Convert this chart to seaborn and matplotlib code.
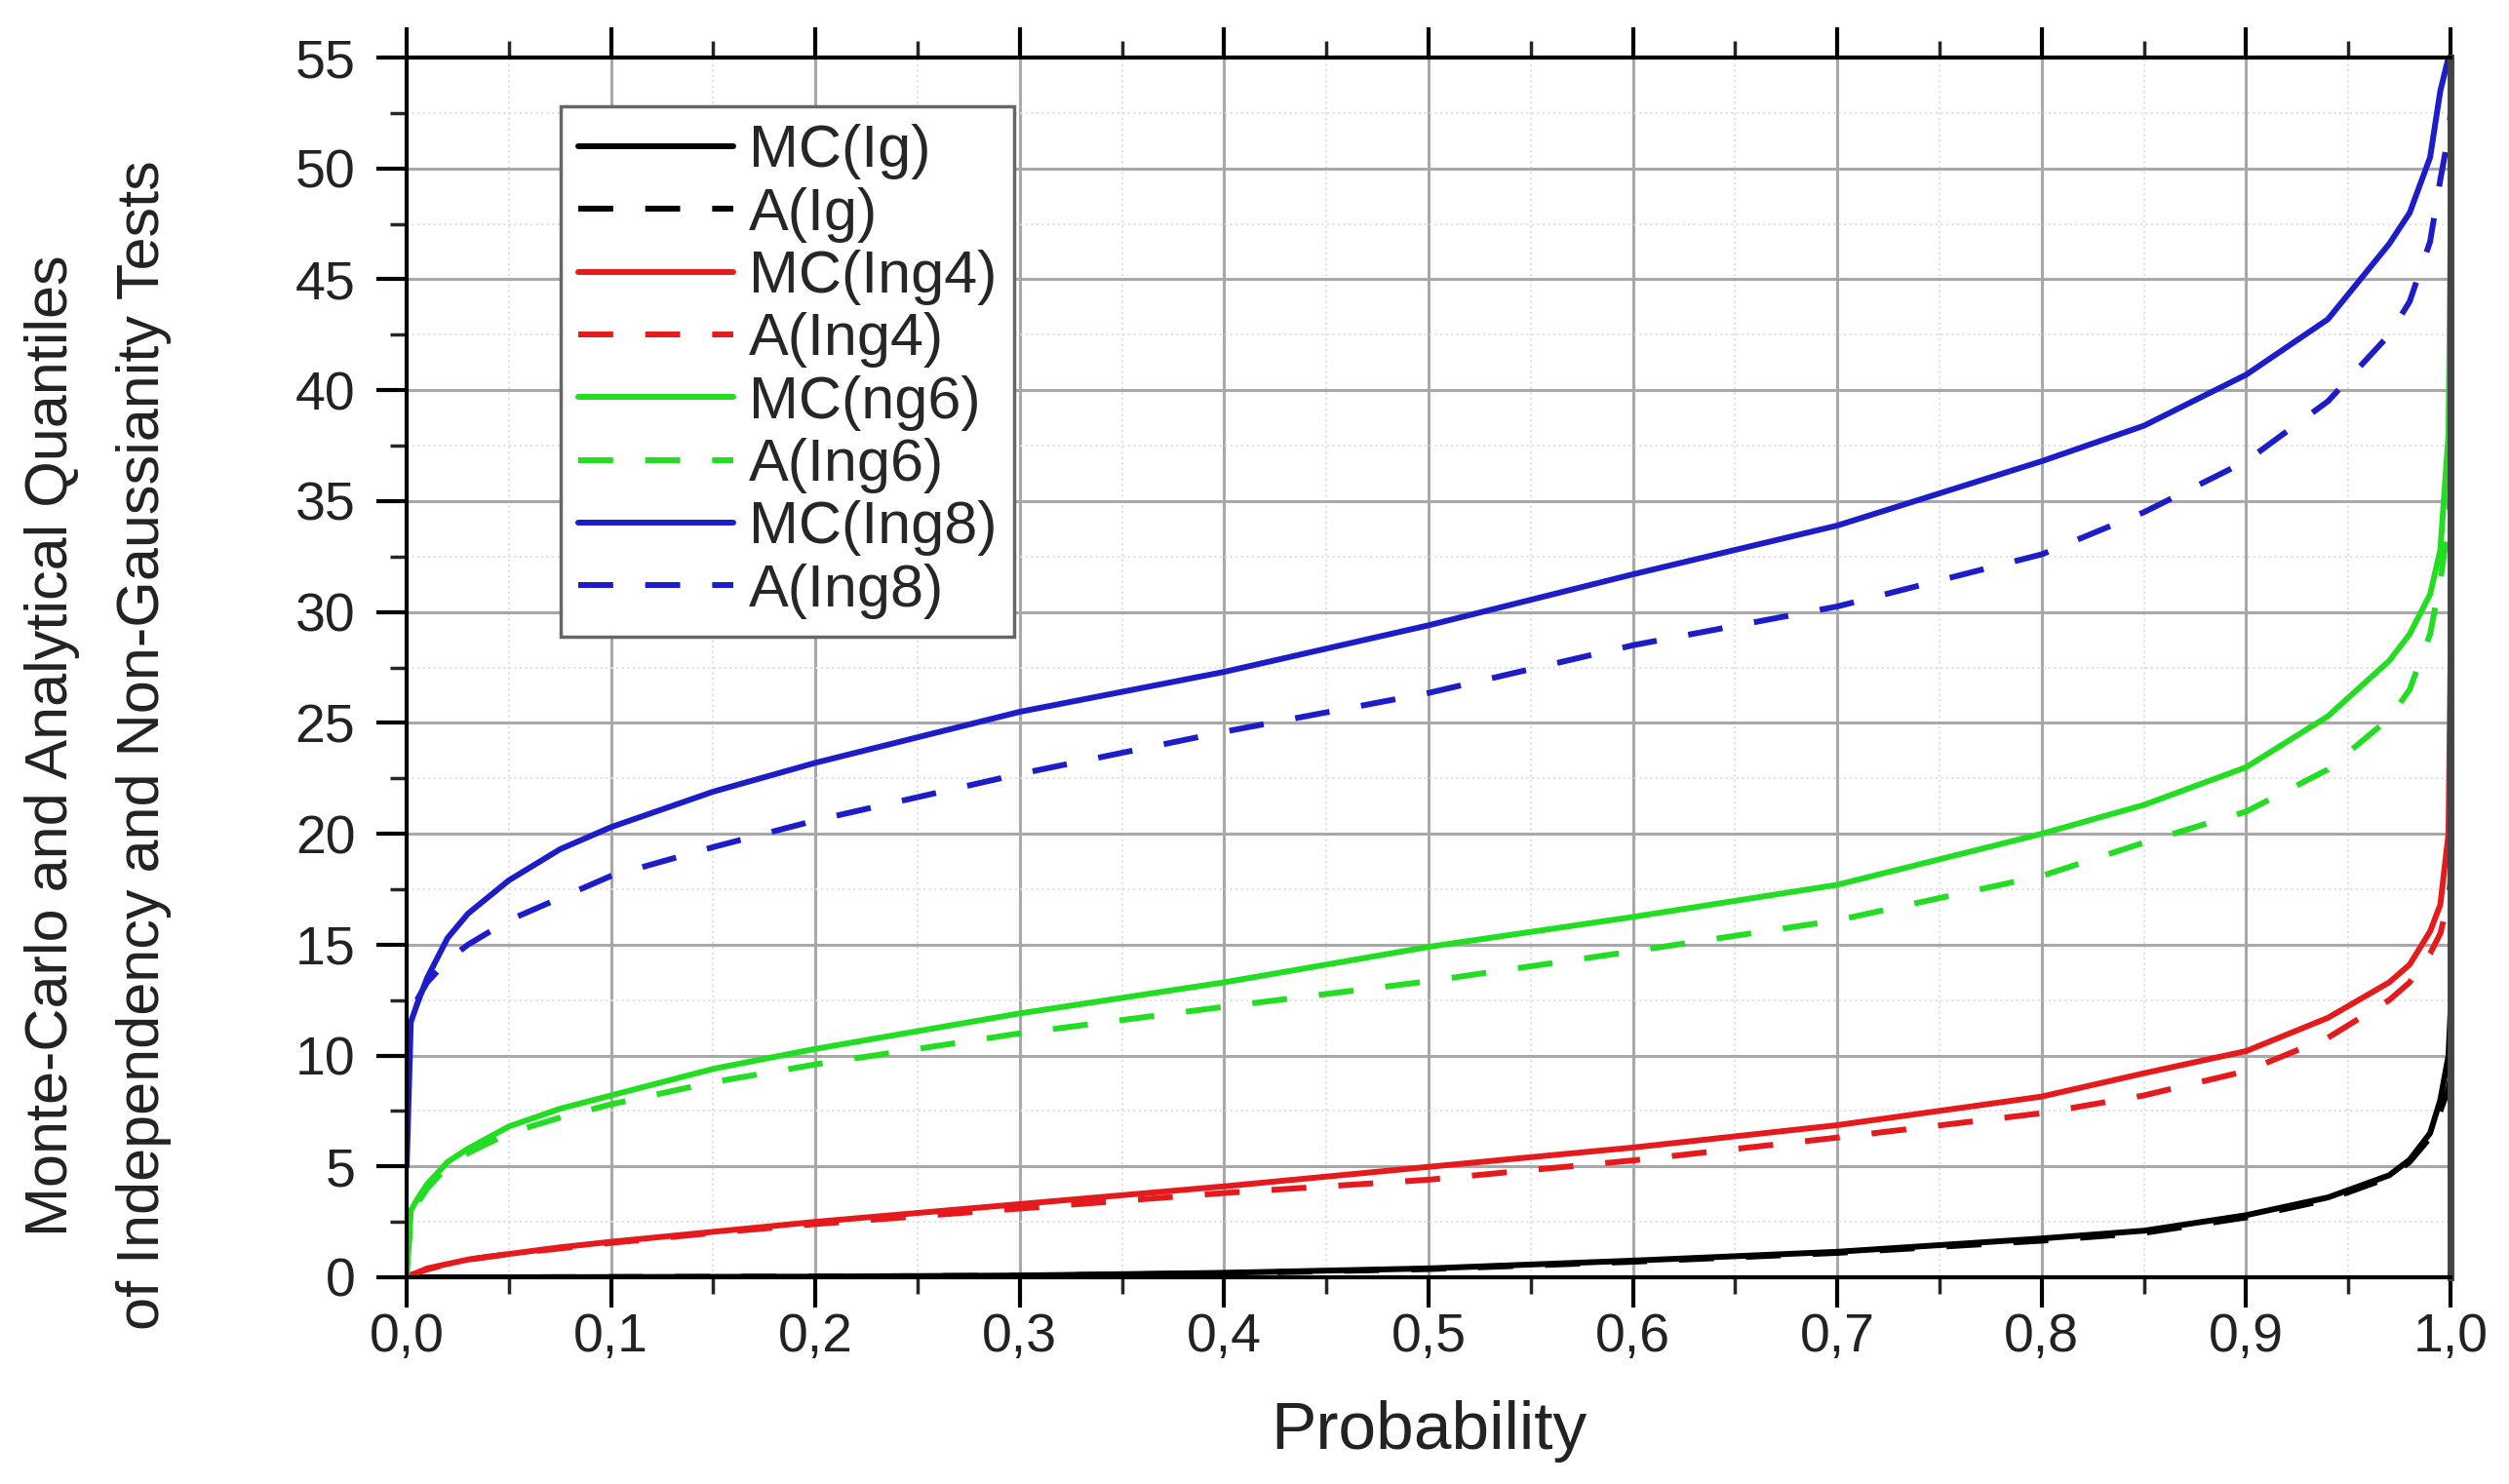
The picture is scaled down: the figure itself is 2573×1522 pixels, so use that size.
import numpy as np
import pandas as pd
import matplotlib
matplotlib.use("Agg")
import matplotlib.pyplot as plt
import seaborn as sns
from matplotlib.ticker import MultipleLocator, FuncFormatter

sns.set_theme(style="white")
plt.rcParams["font.family"] = ["Liberation Sans", "DejaVu Sans"]

# --- quantile curves ---
prob = [0, 0.002, 0.005, 0.01, 0.02, 0.03, 0.05, 0.075, 0.1, 0.15, 0.2, 0.3, 0.4,
        0.5, 0.6, 0.7, 0.8, 0.85, 0.9, 0.94, 0.97, 0.98, 0.99, 0.995, 0.999, 1.0]

mc_ig = [0, 0, 0, 0, 0, 0, 0, 0.005, 0.01, 0.02, 0.03, 0.08, 0.2,
         0.4, 0.75, 1.15, 1.75, 2.1, 2.8, 3.6, 4.6, 5.3, 6.5, 8.0, 10.0, 12.0]
a_ig = [0, 0, 0, 0, 0, 0, 0, 0.005, 0.01, 0.02, 0.03, 0.07, 0.18,
        0.37, 0.7, 1.1, 1.65, 2.0, 2.7, 3.5, 4.5, 5.2, 6.3, 7.5, 8.5, 9.0]
mc_ing4 = [0.0, 0.1, 0.2, 0.4, 0.6, 0.8, 1.05, 1.35, 1.6, 2.05, 2.5, 3.3, 4.1,
           4.98, 5.85, 6.86, 8.15, 9.2, 10.2, 11.7, 13.3, 14.1, 15.6, 16.8, 20.0, 28.0]
a_ing4 = [0.0, 0.1, 0.2, 0.35, 0.6, 0.8, 1.05, 1.3, 1.55, 2.0, 2.4, 3.1, 3.8,
          4.4, 5.27, 6.3, 7.4, 8.2, 9.3, 10.8, 12.5, 13.3, 14.6, 15.5, 17.0, 18.0]
mc_ng6 = [0.0, 3.0, 3.5, 4.2, 5.2, 5.8, 6.8, 7.6, 8.2, 9.4, 10.3, 11.9, 13.3,
          14.9, 16.25, 17.7, 20.0, 21.3, 23.0, 25.3, 27.8, 29.0, 30.8, 32.8, 38.0, 47.0]
a_ing6 = [0.5, 2.5, 3.3, 4.0, 5.0, 5.6, 6.5, 7.2, 7.8, 8.8, 9.6, 11.0, 12.2,
          13.35, 14.7, 16.1, 18.1, 19.6, 21.0, 22.9, 25.2, 26.5, 29.0, 31.4, 34.0, 36.0]
mc_ing8 = [5.0, 11.5, 12.3, 13.5, 15.3, 16.4, 17.9, 19.3, 20.3, 21.9, 23.2, 25.5, 27.3,
           29.4, 31.7, 33.9, 36.8, 38.4, 40.7, 43.2, 46.6, 48.0, 50.5, 53.5, 55.0, 56.0]
a_ing8 = [np.nan, np.nan, 12.5, 13.3, 14.3, 15.0, 16.1, 17.1, 18.1, 19.4, 20.6, 22.7, 24.6,
          26.35, 28.5, 30.25, 32.6, 34.5, 36.8, 39.5, 42.5, 44.0, 46.7, 49.5, 51.5, 52.5]

series = [
    ("MC(Ig)", mc_ig, "black", "-"),
    ("A(Ig)", a_ig, "black", "--"),
    ("MC(Ing4)", mc_ing4, "#e41a1c", "-"),
    ("A(Ing4)", a_ing4, "#e41a1c", "--"),
    ("MC(ng6)", mc_ng6, "#22dd22", "-"),
    ("A(Ing6)", a_ing6, "#22dd22", "--"),
    ("MC(Ing8)", mc_ing8, "#1c1cc8", "-"),
    ("A(Ing8)", a_ing8, "#1c1cc8", "--"),
]

fig = plt.figure(figsize=(25.73, 15.22), dpi=100)
ax = fig.add_axes([0.1621, 0.1393, 0.8146, 0.8219])

for label, vals, color, ls in series:
    df = pd.DataFrame({"p": prob, "q": vals}).dropna()
    sns.lineplot(data=df, x="p", y="q", ax=ax, color=color, lw=4.3,
                 label=label, estimator=None, sort=False)
    if ls == "--":
        ax.lines[-1].set_dashes((6, 5.5))

ax.set_xlim(0, 1)
ax.set_ylim(0, 55)
ax.xaxis.set_major_locator(MultipleLocator(0.1))
ax.xaxis.set_minor_locator(MultipleLocator(0.05))
ax.yaxis.set_major_locator(MultipleLocator(5))
ax.yaxis.set_minor_locator(MultipleLocator(2.5))
ax.xaxis.set_major_formatter(FuncFormatter(lambda v, _: f"{v:.1f}".replace(".", ",")))
ax.yaxis.set_major_formatter(FuncFormatter(lambda v, _: f"{v:.0f}"))

ax.set_axisbelow(True)
ax.grid(which="major", color="#a8a8a8", lw=2.2)
ax.grid(which="minor", color="#e0e0e0", lw=1.5, ls=":")

ax.tick_params(which="major", direction="out", length=22, width=3, top=True,
               right=False, bottom=True, left=True, labelsize=40, pad=4, colors="black")
ax.tick_params(which="minor", direction="out", length=12, width=2.5, top=True,
               right=False, bottom=True, left=True)
ax.tick_params(axis="y", which="major", pad=16)
for tl in ax.get_xticklabels() + ax.get_yticklabels():
    tl.set_color("#222222")

for side in ["left", "top", "bottom"]:
    ax.spines[side].set_color("black")
    ax.spines[side].set_linewidth(3)
ax.spines["right"].set_color("#444444")
ax.spines["right"].set_linewidth(5)

ax.set_xlabel("Probability", fontsize=50, color="#222222", va="top")
ax.xaxis.set_label_coords(0.5, -0.101)
ax.set_ylabel("Monte-Carlo and Analytical Quantiles\nof Independency and Non-Gaussianity Tests",
              fontsize=44, color="#222222", va="center", linespacing=1.85)
ax.yaxis.set_label_coords(-0.151, 0.436)

leg = ax.legend(loc="upper left", bbox_to_anchor=(0.0754, 0.96), fontsize=44,
                frameon=True, fancybox=False, framealpha=1, edgecolor="#666666",
                handlelength=2.6, labelspacing=0.12, borderpad=0.3, handletextpad=0.25,
                borderaxespad=0)
leg.get_frame().set_linewidth(2.5)

fig.savefig("out.png", dpi=100)
